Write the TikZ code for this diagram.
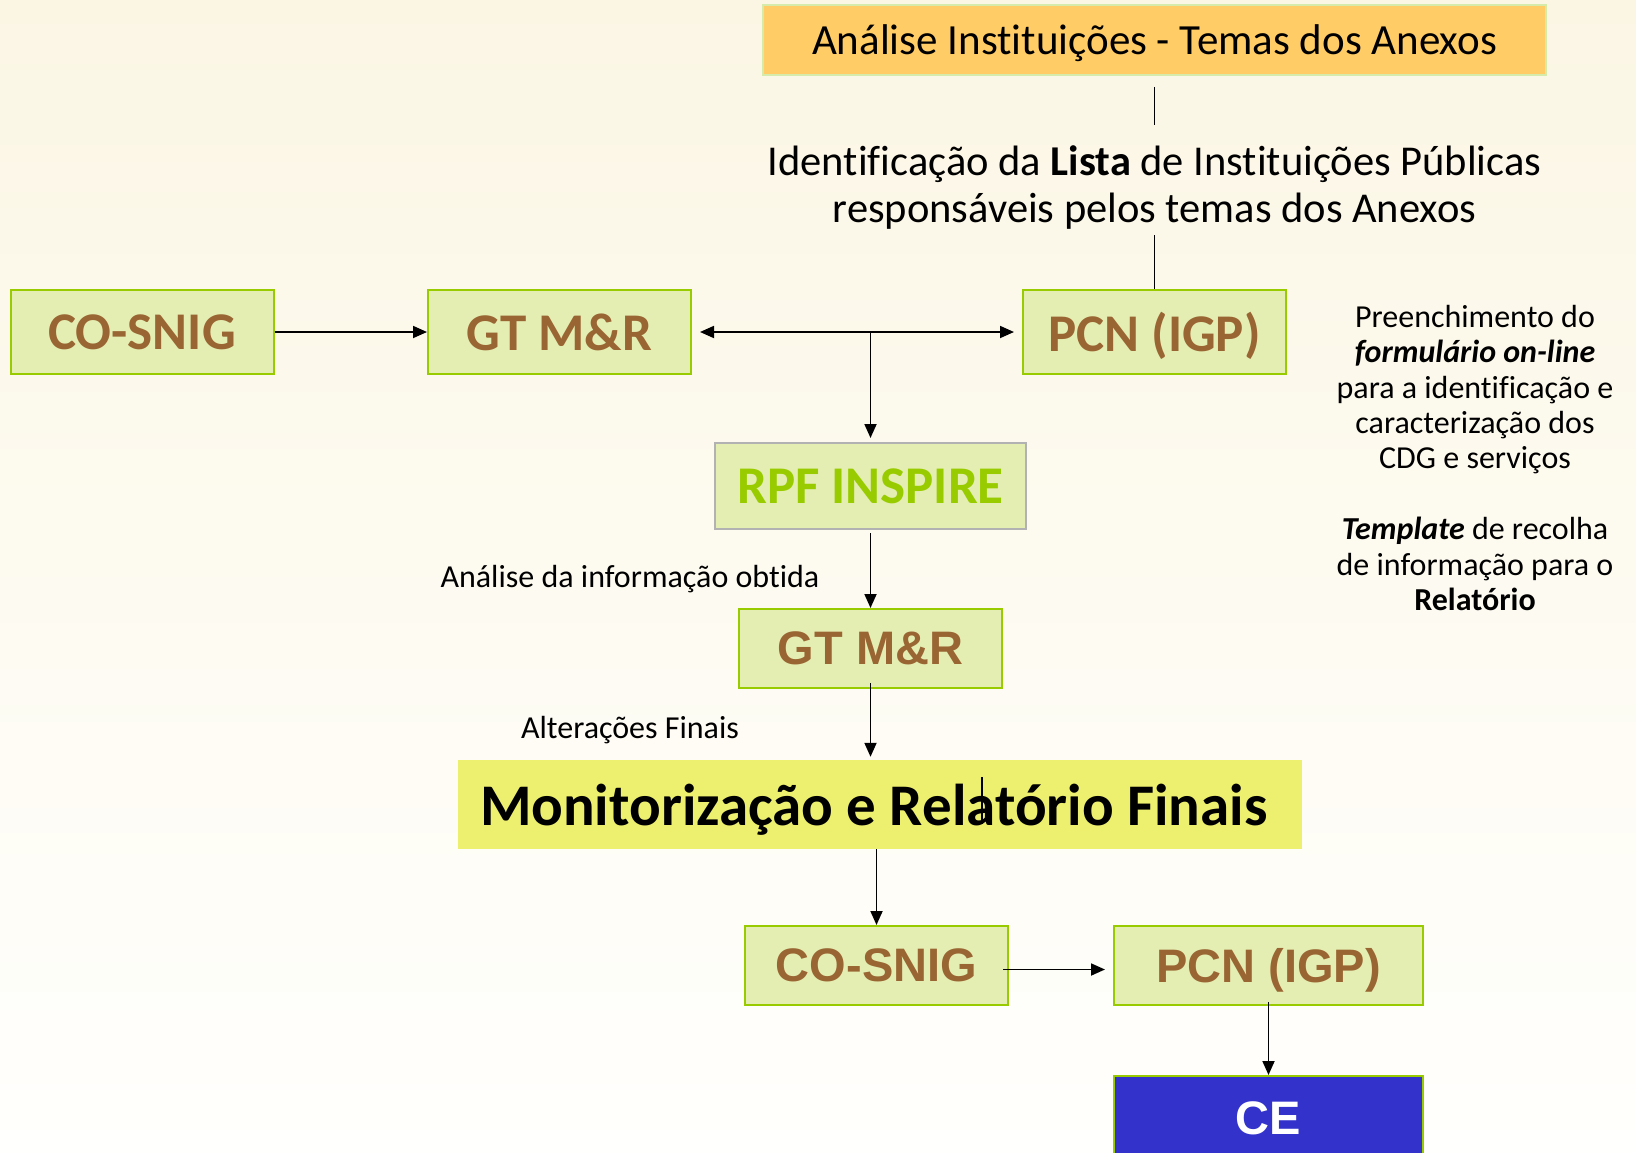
\documentclass[tikz,border=0pt]{standalone}
\usepackage{fontspec}
\setmainfont{Carlito}[Ligatures=NoCommon]
\newfontfamily\arialfont{Liberation Sans}
\usetikzlibrary{positioning,arrows.meta}

\definecolor{bgtop}{RGB}{251,246,228}
\definecolor{bgbottom}{RGB}{255,255,253}
\definecolor{boxgreen}{RGB}{228,238,178}
\definecolor{linegreen}{RGB}{153,204,0}
\definecolor{textbrown}{RGB}{153,102,51}
\definecolor{orangebox}{RGB}{255,204,102}
\definecolor{paleborder}{RGB}{214,234,170}
\definecolor{yellowbox}{RGB}{237,239,110}
\definecolor{ceblue}{RGB}{51,51,204}

\tikzset{
  greenbox/.style={draw=linegreen, line width=2pt, fill=boxgreen, inner sep=0pt,
    minimum width=263pt, minimum height=84pt, text depth=0pt},
  calbold/.style={font=\fontsize{53}{60}\selectfont\bfseries, text=textbrown},
  arialbold/.style={font=\arialfont\fontsize{47}{52}\selectfont\bfseries, text=textbrown},
  smalltext/.style={font=\fontsize{32}{35.4}\selectfont, align=center},
  flow/.style={-{Triangle[width=12pt,length=14pt]}, line width=1.8pt},
  plainline/.style={line width=1.6pt},
}

\begin{document}
\begin{tikzpicture}[x=1pt,y=-1pt]
\useasboundingbox (0,0) rectangle (1636,1153);
\clip (0,0) rectangle (1636,1153);
\fill[top color=bgtop, bottom color=bgbottom] (0,0) rectangle (1636,1153);

% top of the chart
\node[draw=paleborder, line width=2pt, fill=orangebox, minimum width=783pt, minimum height=70pt,
  text depth=0pt, font=\fontsize{43}{48}\selectfont] (analise) at (1154.5,40) {Análise Instituições - Temas dos Anexos};
\node[font=\fontsize{42.5}{47}\selectfont, align=center] (ident) at (1154.5,188)
  {Identificação da \textbf{Lista} de Instituições Públicas\\responsáveis pelos temas dos Anexos};

% first row
\node[greenbox, calbold] (cosnigA) at (142,332) {CO-SNIG};
\node[greenbox, calbold] (gtmrA) at (559.5,332) {GT M\&R};
\node[greenbox, calbold] (pcnA) at (1154.5,332) {PCN (IGP)};

\node[greenbox, draw=gray!60, minimum width=311pt, minimum height=86pt, calbold, text=linegreen] (rpf) at (870.5,486) {RPF INSPIRE};
\node[greenbox, minimum height=79pt, arialbold] (gtmrB) at (870.5,648.5) {GT M\&R};

\node[fill=yellowbox, minimum width=844pt, minimum height=89pt, text depth=0pt, inner xsep=22pt,
  text width=800pt, align=flush left,
  font=\fontsize{59}{64}\selectfont\bfseries] (mon) at (880,804.5) {\mbox{Monitorização e Relatório Finais}};

% last rows
\node[greenbox, minimum height=79pt, arialbold] (cosnigB) at (876.5,965.5) {CO-SNIG};
\node[greenbox, minimum width=309pt, minimum height=79pt, arialbold] (pcnB) at (1268.5,965.5) {PCN (IGP)};
\node[greenbox, fill=ceblue, minimum width=309pt, minimum height=84pt, arialbold, text=white] (ce) at (1268.5,1118) {CE};

% labels
\node[smalltext] (obtida) at (630,579) {Análise da informação obtida};
\node[smalltext] (finais) at (630,730) {Alterações Finais};
\node[smalltext] (nota) at (1475,458) {Preenchimento do\\\textbf{\textit{formulário on-line}}\\para a identificação e\\caracterização dos\\CDG e serviços\\[35.4pt]\textbf{\textit{Template}} de recolha\\de informação para o\\\textbf{Relatório}};

% connectors
\draw[plainline, shorten <=11pt, shorten >=18pt] (analise.south) -- (ident.north);
\draw[plainline, shorten <=2pt] (ident.south) -- (pcnA.north);
\draw[flow] (cosnigA) -- (gtmrA);
\draw[flow, {Triangle[width=12pt,length=14pt]}-{Triangle[width=12pt,length=14pt]}, shorten <=8pt, shorten >=8pt] (gtmrA) -- (pcnA);
\coordinate (split) at (rpf.north |- gtmrA.east);
\draw[flow, shorten >=4pt] (split) -- (rpf.north);
\draw[flow, shorten <=3pt] (rpf) -- (gtmrB);
\draw[flow, shorten <=-6pt, shorten >=3pt] (gtmrB.south) -- (gtmrB.south |- mon.north);
\draw[line width=1.2pt] (982,777) -- (982,824);
\draw[flow] (mon.south -| cosnigB.north) -- (cosnigB.north);
\draw[flow, shorten <=-6pt, shorten >=8pt] ([yshift=-4pt]cosnigB.east) -- ([yshift=-4pt]pcnB.west);
\draw[flow, shorten <=-4pt] (pcnB) -- (ce);
\end{tikzpicture}
\end{document}
